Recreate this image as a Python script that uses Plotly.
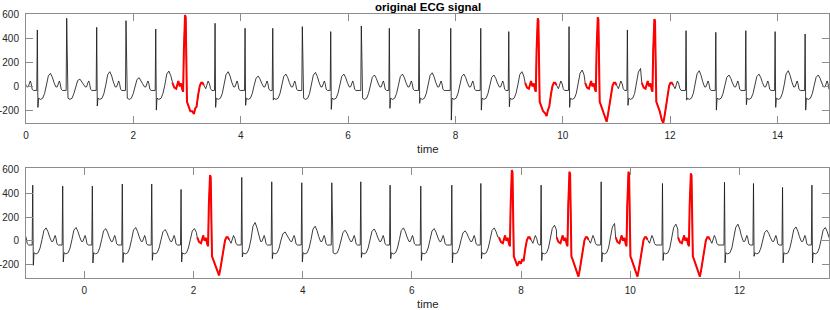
import plotly.graph_objects as go

# ---------------- data ----------------
# Beat shape templates (offset from peak in s, value)
normal_offsets = [-0.010, 0.0, 0.011, 0.024, 0.06, 0.10, 0.135, 0.17, 0.205, 0.245,
                  0.28, 0.31, 0.345, 0.37, 0.395, 0.41, 0.425, 0.445, 0.47]
# "R" = per-beat peak, "S" = per-beat trough, ("T", f) = fraction of per-beat T height
normal_shape = [-35, "R", "S", -100, -110, -100, -60, ("T", 0.1), ("T", 0.8), ("T", 1.0),
                ("T", 0.7), ("T", 0.3), -5, -5, 30, 45, 25, -25, -35]

pvc_offsets = [-0.235, -0.20, -0.165, -0.125, -0.10, -0.075, -0.05, -0.036, -0.022, -0.012,
               0.0, 0.012, 0.022, 0.036, 0.06, 0.10, 0.135, 0.165, 0.19, 0.215, 0.245, 0.275,
               0.30, 0.325, 0.35, 0.385, 0.43, 0.455, 0.475, 0.50]
pvc_shape = [30, -10, -20, 45, 0, 25, -30, -45, 300, ("R", 0.97), "R", ("R", 0.97), 250,
             -130, -160, -210, ("S", 0.9), "S", ("S", 0.8), -170, -70, 5, 30, 30, 10,
             -20, 45, 20, -20, -35]
pvc_red_end = 0.35

# Top panel: beat times, type, peak, trough, T-wave height
top_t = [-0.33, 0.211, 0.758, 1.317, 1.863, 2.417, 2.963, 3.522, 4.081, 4.597, 5.148, 5.677,
         6.247, 6.769, 7.323, 7.913, 8.472, 8.994, 9.534, 10.117, 10.652, 11.204, 11.707,
         12.297, 12.851, 13.410, 13.956, 14.515]
top_kind = "NNNNNNVNNNNNNNNNNNVNVNVNNNNN"
top_peak = [480, 474, 572, 496, 552, 482, 600, 530, 488, 488, 502, 460, 507, 488, 482, 488,
            488, 460, 572, 502, 580, 474, 566, 468, 454, 468, 460, 440]
top_trough = [-150, -177, -88, -166, -100, -200, -233, -177, -160, -116, -60, -194, -88, -185,
              -143, -284, -200, -172, -250, -177, -298, -160, -310, -116, -200, -155, -177, -200]
top_twave = [100, 109, 61, 123, 72, 128, 0, 123, 86, 103, 117, 103, 95, 103, 114, 103, 95, 123,
             0, 137, 0, 150, 0, 131, 95, 103, 131, 95]

# Bottom panel
bot_t = [-1.49, -0.945, -0.396, 0.147, 0.696, 1.235, 1.772, 2.303, 2.884, 3.433, 3.983, 4.533,
         5.064, 5.601, 6.163, 6.731, 7.263, 7.831, 8.367, 8.886, 9.467, 9.967, 10.590, 11.110,
         11.726, 12.257, 12.789, 13.327]
bot_kind = "NNNNNNNVNNNNNNNNNVNVNVNVNNNN"
bot_peak = [470, 468, 460, 460, 477, 477, 432, 552, 533, 496, 488, 488, 496, 468, 460, 468, 482,
            595, 468, 580, 496, 580, 482, 566, 492, 482, 449, 468]
bot_trough = [-180, -205, -177, -186, -182, -163, -177, -290, -135, -150, -177, -100, -140, -150,
              -165, -185, -150, -191, -165, -300, -177, -300, -165, -300, -185, -130, -185, -185]
bot_twave = [100, 109, 112, 103, 112, 95, 103, 0, 154, 75, 123, 89, 100, 109, 103, 84, 109, 0,
             131, 0, 146, 0, 140, 0, 140, 89, 117, 112]

x_ticks_top = [0, 2, 4, 6, 8, 10, 12, 14]
x_ticks_bot = [0, 2, 4, 6, 8, 10, 12]
y_ticks = [-200, 0, 200, 400, 600]
y_tick_labels = ["-200", "0", "200", "400", "600"]


def knot_value(spec, r, s, tw):
    if spec == "R":
        return r
    if spec == "S":
        return s
    if isinstance(spec, tuple):
        base = {"T": tw, "S": s, "R": r}[spec[0]]
        return base * spec[1]
    return spec


def build(times, kinds, peaks, troughs, twaves):
    xs, ys = [], []
    rx, ry = [], []
    n = len(times)
    for i in range(n):
        if kinds[i] == "N":
            offs, shape = normal_offsets, normal_shape
        else:
            offs, shape = pvc_offsets, pvc_shape
        if i + 1 < n:
            nxt_first = normal_offsets[0] if kinds[i + 1] == "N" else pvc_offsets[0]
            limit = times[i + 1] + nxt_first - 1e-6
        else:
            limit = 1e9
        seg_x, seg_y = [], []
        for off, spec in zip(offs, shape):
            t = times[i] + off
            if t < limit:
                v = knot_value(spec, peaks[i], troughs[i], twaves[i])
                xs.append(t)
                ys.append(v)
                if kinds[i] == "V" and off <= pvc_red_end + 1e-9:
                    seg_x.append(t)
                    seg_y.append(v)
        if seg_x:
            rx += seg_x + [None]
            ry += seg_y + [None]
    return xs, ys, rx, ry


tx, ty, trx, tryy = build(top_t, top_kind, top_peak, top_trough, top_twave)
bx, by, brx, bry = build(bot_t, bot_kind, bot_peak, bot_trough, bot_twave)

FONT = "Liberation Sans, Arial, Helvetica, sans-serif"
fig = go.Figure()
fig.add_trace(go.Scatter(x=tx, y=ty, mode="lines", line=dict(color="#1a1a1a", width=0.85),
                         xaxis="x", yaxis="y", showlegend=False, hoverinfo="skip"))
fig.add_trace(go.Scatter(x=trx, y=tryy, mode="lines", line=dict(color="#ff0000", width=2),
                         xaxis="x", yaxis="y", showlegend=False, hoverinfo="skip"))
fig.add_trace(go.Scatter(x=bx, y=by, mode="lines", line=dict(color="#1a1a1a", width=0.85),
                         xaxis="x2", yaxis="y2", showlegend=False, hoverinfo="skip"))
fig.add_trace(go.Scatter(x=brx, y=bry, mode="lines", line=dict(color="#ff0000", width=2),
                         xaxis="x2", yaxis="y2", showlegend=False, hoverinfo="skip"))

axis_common = dict(showline=True, linecolor="#8c8c8c", linewidth=1, mirror="ticks",
                   ticks="inside", ticklen=7, tickcolor="#8c8c8c", tickwidth=1,
                   showgrid=False, zeroline=False, automargin=False,
                   tickfont=dict(family=FONT, size=10, color="#262626"))

fig.update_layout(
    width=830, height=310,
    margin=dict(l=26, r=1, t=14, b=32),
    plot_bgcolor="white", paper_bgcolor="white",
    xaxis=dict(domain=[0, 1], range=[0, 14.96], tickvals=x_ticks_top, anchor="y",
               ticklabelstandoff=3, **axis_common),
    yaxis=dict(domain=[0.5855, 1], range=[-312, 608], tickvals=y_ticks,
               ticktext=y_tick_labels, anchor="x", ticklabelstandoff=4, **axis_common),
    xaxis2=dict(domain=[0, 1], range=[-1.068, 13.64], tickvals=x_ticks_bot, anchor="y2",
                ticklabelstandoff=3, **axis_common),
    yaxis2=dict(domain=[0, 0.4149], range=[-312, 608], tickvals=y_ticks,
                ticktext=y_tick_labels, anchor="x2", ticklabelstandoff=4, **axis_common),
    annotations=[
        dict(text="<b>original ECG signal</b>", x=0.5, y=(278 - 7) / 264, xref="paper",
             yref="paper", xanchor="center", yanchor="middle", showarrow=False,
             font=dict(family=FONT, size=11.5, color="black")),
        dict(text="time", x=0.5, y=(278 - 148.5) / 264, xref="paper", yref="paper",
             xanchor="center", yanchor="middle", showarrow=False,
             font=dict(family=FONT, size=11.5, color="#262626")),
        dict(text="time", x=0.5, y=(278 - 303.5) / 264, xref="paper", yref="paper",
             xanchor="center", yanchor="middle", showarrow=False,
             font=dict(family=FONT, size=11.5, color="#262626")),
    ],
)

fig.write_html(
    "out.html",
    config={"displayModeBar": False},
    post_script="document.body.style.margin='0';document.body.style.overflow='hidden';",
)
